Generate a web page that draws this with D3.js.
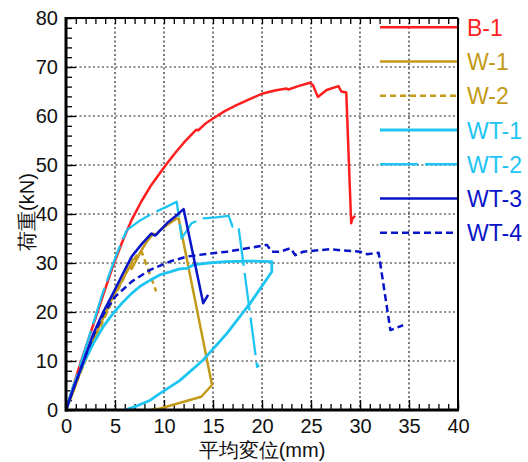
<!DOCTYPE html>
<html>
<head>
<meta charset="utf-8">
<script src="https://cdn.jsdelivr.net/npm/d3@7"></script>
<style>
  body { margin: 0; background: #fff; }
  svg text { font-family: "Liberation Sans", Arial, sans-serif; }
</style>
</head>
<body>
<svg id="chart" width="528" height="462"></svg>
<script>
// 試験体ごとの荷重-変位データ [変位mm, 荷重kN]
const B1 = [[0,0],[1.3,8.5],[2.6,16.3],[3.8,23.5],[4.8,29.4],[5.8,34.6],[6.7,38.8],[7.7,42.6],[8.6,45.6],[9.5,48.1],[10.3,50.3],[11.2,52.6],[12,54.5],[12.8,56.2],[13.3,57.2],[13.5,57.1],[14.2,58.4],[15,59.5],[16.2,61],[17.4,62.2],[18.8,63.5],[20.1,64.6],[21.3,65.2],[22.5,65.6],[22.7,65.4],[23.7,66.1],[24.9,66.8],[25.2,66.3],[25.7,63.9],[26.6,65.3],[27.8,66.1],[28.1,65],[28.6,64.8],[29.1,38.1],[29.2,39],[29.5,39.6]];
const W1 = [[0,0],[0.7,3.5],[1.4,7.5],[2.8,14.3],[3.8,18.8],[4.8,23.1],[5.8,26.7],[6.5,29.4],[6.7,28.8],[7.7,32.6],[8.3,34.5],[8.9,36],[9.2,35.8],[9.6,36.7],[10.5,38],[11.3,39.1],[11.5,39.1],[14.9,5.1],[13.8,2.7],[9.6,0.3],[8.6,0]];
const W2 = [[0,0],[1.4,7.3],[2.8,14],[4.8,22.6],[6.2,28.2],[6.9,31],[6.6,29.6],[7.2,31.5],[7.7,32.4],[9.2,24.2]];
const WT1 = [[0,0],[0.75,4.8],[1.8,9.6],[2.8,13.6],[3.8,17],[4.8,19.7],[5.8,22],[6.7,23.8],[7.6,25.3],[8.6,26.5],[9.6,27.6],[10.6,28.2],[11.6,28.8],[12.3,28.9],[13,29.6],[14.5,30],[16.4,30.3],[18.5,30.4],[21,30.3],[21,28.2],[18.8,21.8],[16.4,15.6],[14,10.2],[11.6,6],[9.6,3.4],[8.6,2],[7.2,0.8],[6,0]];
const WT2 = [[0,0],[1.3,8.2],[2.6,16.5],[3.6,23],[4.5,28.2],[5.4,33],[6.2,36.7],[7.5,38.6],[9,40.3],[10.3,41.5],[11.3,42.5],[11.8,35],[12.8,38.1],[14,39.1],[15.3,39.3],[16.6,39.6],[17,37.4],[17.6,37.4],[17.8,34.4],[19.5,8.8],[19.7,9.2]];
const WT3 = [[0,0],[0.75,4.3],[1.8,10],[2.8,15.6],[3.8,20],[4.8,23.8],[5.8,27.8],[6.7,31.3],[7.7,33.8],[8.7,36],[9.1,35.6],[10.3,38.1],[11.2,39.6],[12,41],[14,21.8],[14.5,23.5]];
const WT4 = [[0,0],[0.75,4.3],[1.8,10],[2.8,15.2],[3.8,19.5],[5,23.1],[6.7,26.2],[8.6,28.6],[10.6,30.3],[12.3,31.3],[14.5,31.9],[16.4,32.3],[18.5,33],[20.5,33.7],[21,32.3],[21.8,32.3],[22.9,33],[23.4,31.6],[24.2,32.3],[26.9,32.8],[30,32.3],[30.7,31.8],[31.9,32.1],[33.1,16.3],[34.4,17.3]];

const seriesNames = ['B-1','W-1','W-2','WT-1','WT-2','WT-3','WT-4'];
const seriesData = [B1, W1, W2, WT1, WT2, WT3, WT4];
const seriesColors = ['#ff1e1e','#c39a18','#c39a18','#1ec4f2','#1ec4f2','#0814c8','#0814c8'];
const seriesDash = [null, null, '6,4', null, '38,7', null, '7,4'];
const seriesWidth = [2.5, 2.5, 2.5, 2.8, 2.3, 2.5, 2.5];

const xTicks = [0,5,10,15,20,25,30,35,40];
const yTicks = [0,10,20,30,40,50,60,70,80];

const svg = d3.select('#chart');
const pL = 66, pT = 18, pR = 458, pB = 410;

const x = d3.scaleLinear().domain([0, 40]).range([pL, pR]);
const y = d3.scaleLinear().domain([0, 80]).range([pB, pT]);

// グリッド
const grid = svg.append('g');
grid.selectAll('line.gx').data(xTicks.slice(1, -1)).enter().append('line')
    .attr('x1', d => x(d)).attr('x2', d => x(d)).attr('y1', pT).attr('y2', pB)
    .attr('stroke', '#222').attr('stroke-width', 1.2).attr('stroke-dasharray', '2,2.5');
grid.selectAll('line.gy').data(yTicks.slice(1, -1)).enter().append('line')
    .attr('y1', d => y(d)).attr('y2', d => y(d)).attr('x1', pL).attr('x2', pR)
    .attr('stroke', '#222').attr('stroke-width', 1.2).attr('stroke-dasharray', '2,2.5');

// 軸（内向き目盛）
const minorX = d3.range(0, 41, 1);
const minorY = d3.range(0, 81, 2);
const bottomAxis = svg.append('g').attr('transform', `translate(0,${pB})`)
    .call(d3.axisBottom(x).tickValues(minorX).tickSize(-6).tickFormat(''));
const bottomMajor = svg.append('g').attr('transform', `translate(0,${pB})`)
    .call(d3.axisBottom(x).tickValues(xTicks).tickSize(-10).tickPadding(9).tickFormat(d3.format('d')));
const topAxis = svg.append('g').attr('transform', `translate(0,${pT})`)
    .call(d3.axisTop(x).tickValues(minorX).tickSize(-6).tickFormat(''));
const leftAxis = svg.append('g').attr('transform', `translate(${pL},0)`)
    .call(d3.axisLeft(y).tickValues(minorY).tickSize(-6).tickFormat(''));
const leftMajor = svg.append('g').attr('transform', `translate(${pL},0)`)
    .call(d3.axisLeft(y).tickValues(yTicks).tickSize(-10).tickPadding(8).tickFormat(d3.format('d')));

[bottomAxis, bottomMajor, topAxis, leftAxis, leftMajor].forEach(a => {
    a.select('.domain').remove();
    a.selectAll('.tick line').attr('stroke', '#000').attr('stroke-width', 1.3);
    a.selectAll('text').attr('font-size', 20).attr('fill', '#111')
        .style('font-family', '"Liberation Sans", Arial, sans-serif');
});

// 曲線
const line = d3.line().x(d => x(d[0])).y(d => y(d[1]));
svg.append('defs').append('clipPath').attr('id', 'plot-clip')
    .append('rect').attr('x', pL).attr('y', pT).attr('width', pR - pL).attr('height', pB - pT);
const curves = svg.append('g').attr('clip-path', 'url(#plot-clip)');
seriesData.forEach((data, i) => {
    curves.append('path')
        .attr('d', line(data))
        .attr('fill', 'none')
        .attr('stroke', seriesColors[i])
        .attr('stroke-width', seriesWidth[i])
        .attr('stroke-linejoin', 'round')
        .attr('stroke-dasharray', seriesDash[i]);
});

// 枠
svg.append('line').attr('x1', pL).attr('x2', pL).attr('y1', pT - 1).attr('y2', pB + 1.5).attr('stroke', '#000').attr('stroke-width', 3);
svg.append('line').attr('x1', pL - 1).attr('x2', pR + 1).attr('y1', pB).attr('y2', pB).attr('stroke', '#000').attr('stroke-width', 3);
svg.append('line').attr('x1', pL).attr('x2', pR).attr('y1', pT).attr('y2', pT).attr('stroke', '#000').attr('stroke-width', 2);
svg.append('line').attr('x1', pR).attr('x2', pR).attr('y1', pT).attr('y2', pB).attr('stroke', '#000').attr('stroke-width', 2);

// 凡例
const legendY = d3.scaleLinear().domain([0, 6]).range([27.3, 232.7]);
const legend = svg.append('g');
seriesNames.forEach((name, i) => {
    legend.append('line')
        .attr('x1', 380).attr('x2', pR - 1)
        .attr('y1', legendY(i)).attr('y2', legendY(i))
        .attr('stroke', seriesColors[i])
        .attr('stroke-width', seriesWidth[i])
        .attr('stroke-dasharray', seriesDash[i]);
    legend.append('text')
        .attr('x', 467).attr('y', legendY(i) + 8.5)
        .attr('font-size', 23)
        .attr('fill', seriesColors[i])
        .text(name);
});

// 軸ラベル
svg.append('text')
    .attr('x', (pL + pR) / 2).attr('y', 457)
    .attr('text-anchor', 'middle').attr('font-size', 20).attr('fill', '#111')
    .text('平均変位(mm)');
svg.append('text')
    .attr('transform', `translate(34,${(pT + pB) / 2 - 2}) rotate(-90)`)
    .attr('text-anchor', 'middle').attr('font-size', 20).attr('fill', '#111')
    .text('荷重(kN)');
</script>
</body>
</html>
